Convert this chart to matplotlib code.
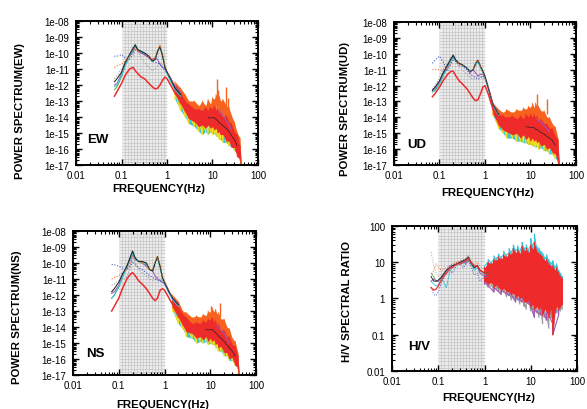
import numpy as np
import matplotlib
matplotlib.use("Agg")
import matplotlib.pyplot as plt
from matplotlib.ticker import LogLocator, FixedLocator, FixedFormatter, NullFormatter

plt.rcParams['font.family'] = ['Liberation Sans', 'DejaVu Sans']

# ---------------- data ----------------
f_lo = [0.07, 0.08, 0.1, 0.12, 0.15, 0.18, 0.2, 0.23, 0.27, 0.32, 0.4, 0.47,
        0.55, 0.62, 0.7, 0.8, 0.9, 1.0, 1.2, 1.5, 2.0]
f_hi = [1.5, 2, 2.5, 3, 4, 5, 6, 7, 8, 9, 10, 11, 12, 13, 14, 15, 17, 20,
        23, 26, 30, 35, 40, 43]

# log10 power, EW
ew_green  = [-12.3,-12.1,-11.5,-10.8,-10.2,-9.8,-9.5,-9.8,-9.9,-10.0,-10.2,-10.5,-10.4,-9.9,-9.6,-10.1,-10.8,-11.2,-11.7,-12.2,-12.6]
ew_grey   = [-11.6,-11.4,-11.0,-10.6,-10.1,-9.6,-9.4,-9.9,-10.3,-10.6,-10.9,-11.1,-11.0,-10.8,-10.6,-10.7,-11.0,-11.3,-11.7,-12.2,-12.6]
ew_purple = [-12.0,-11.9,-11.3,-10.7,-10.2,-9.9,-9.6,-9.8,-10.0,-10.1,-10.3,-10.4,-10.3,-10.4,-10.7,-10.9,-11.0,-11.2,-11.6,-12.1,-12.5]
ew_black  = [-11.8,-11.6,-11.2,-10.6,-10.1,-9.7,-9.5,-9.8,-9.9,-10.0,-10.2,-10.5,-10.4,-9.9,-9.6,-10.2,-10.9,-11.2,-11.6,-12.2,-12.6]
ew_orange = [-10.9,-10.8,-10.7,-10.5,-10.2,-9.9,-9.7,-9.9,-10.0,-10.1,-10.2,-10.4,-10.3,-9.8,-9.5,-10.1,-10.8,-11.1,-11.5,-12.0,-12.4]
ew_blue   = [-10.2,-10.2,-10.1,-10.3,-10.4,-10.1,-9.8,-9.9,-10.0,-10.1,-10.3,-10.5,-10.6,-10.6,-10.7,-10.9,-11.1,-11.2,-11.6,-12.1,-12.5]
ew_cyan   = [-12.1,-12.0,-11.4,-10.8,-10.2,-9.8,-9.5,-9.8,-9.9,-10.0,-10.2,-10.5,-10.4,-9.9,-9.6,-10.2,-10.9,-11.3,-11.8,-12.3,-12.7]
ew_red    = [-12.7,-12.4,-11.9,-11.4,-11.0,-10.9,-11.1,-11.3,-11.5,-11.6,-11.9,-12.1,-12.25,-12.2,-12.0,-11.7,-11.5,-11.6,-12.0,-12.5,-12.9]
ew_or_up  = [-11.8,-12.2,-12.6,-13.0,-13.0,-13.3,-13.0,-13.3,-12.9,-13.2,-12.8,-12.9,-12.6,-12.7,-12.7,-13.0,-12.9,-13.3,-13.4,-13.9,-14.3,-15.0,-15.3,-17.0]
ew_or_lo  = [-12.3,-12.8,-13.3,-13.5,-13.7,-13.8,-13.8,-13.8,-13.7,-13.7,-13.5,-13.4,-13.3,-13.3,-13.5,-13.7,-13.9,-14.2,-14.5,-14.8,-15.2,-15.6,-16.0,-17.0]
ew_lw_up  = [-12.4,-12.9,-13.4,-13.7,-14.0,-14.1,-14.1,-14.1,-14.0,-14.0,-13.9,-13.9,-13.9,-14.0,-14.1,-14.2,-14.4,-14.6,-14.8,-15.0,-15.3,-15.7,-16.1,-17.0]
ew_lw_lo  = [-12.9,-13.6,-14.0,-14.4,-14.6,-14.9,-15.1,-14.9,-15.1,-14.9,-15.1,-15.0,-15.2,-15.2,-15.4,-15.4,-15.6,-15.6,-15.8,-15.8,-16.1,-16.3,-16.7,-17.0]
ew_rd_up  = [-12.0,-12.5,-13.0,-13.2,-13.5,-13.5,-13.6,-13.4,-13.6,-13.4,-13.5,-13.3,-13.6,-13.5,-13.8,-13.7,-14.0,-13.9,-14.3,-14.4,-14.9,-15.1,-15.8,-17.0]
ew_rd_lo  = [-12.6,-13.2,-13.7,-14.1,-14.3,-14.6,-14.5,-14.7,-14.5,-14.7,-14.6,-14.8,-14.7,-15.0,-14.9,-15.1,-15.1,-15.5,-15.5,-15.9,-15.9,-16.5,-16.6,-17.0]
ew_spk_f  = [12.5, 13.5, 20.0, 22.0]
ew_spk_top = [-11.6, -12.3, -12.1, -12.8]
ew_spk_bot = [-13.2, -13.2, -13.5, -13.6]

# UD
ud_green  = [-12.4,-12.3,-11.9,-11.4,-10.8,-10.3,-10.1,-10.4,-10.6,-10.7,-10.9,-11.1,-11.0,-10.7,-10.5,-10.8,-11.1,-11.4,-12.2,-13.2,-13.8]
ud_grey   = [-12.2,-12.0,-11.5,-11.0,-10.6,-10.2,-10.0,-10.5,-10.8,-11.0,-11.3,-11.5,-11.6,-11.5,-11.4,-11.4,-11.5,-11.6,-12.3,-13.2,-13.8]
ud_purple = [-12.3,-12.2,-11.8,-11.3,-10.8,-10.4,-10.2,-10.5,-10.6,-10.7,-10.9,-11.2,-11.0,-11.2,-11.4,-11.3,-11.3,-11.5,-12.2,-13.2,-13.8]
ud_black  = [-12.3,-12.1,-11.7,-11.2,-10.7,-10.3,-10.1,-10.4,-10.6,-10.7,-10.9,-11.1,-11.0,-10.6,-10.4,-10.8,-11.1,-11.4,-12.2,-13.2,-13.8]
ud_orange = [-11.0,-11.0,-11.0,-11.0,-10.9,-10.6,-10.4,-10.5,-10.6,-10.7,-10.9,-11.1,-11.0,-10.6,-10.4,-10.8,-11.1,-11.4,-12.1,-13.1,-13.7]
ud_blue   = [-10.6,-10.4,-10.15,-10.5,-11.1,-10.6,-10.2,-10.5,-10.7,-10.8,-11.0,-11.3,-11.4,-11.5,-11.6,-11.5,-11.4,-11.5,-12.2,-13.2,-13.8]
ud_cyan   = [-12.4,-12.3,-11.9,-11.4,-10.9,-10.4,-10.2,-10.5,-10.6,-10.7,-10.9,-11.1,-11.0,-10.7,-10.5,-10.9,-11.2,-11.5,-12.3,-13.3,-13.9]
ud_red    = [-12.7,-12.5,-12.1,-11.7,-11.3,-11.1,-11.1,-11.4,-11.7,-11.9,-12.2,-12.5,-12.8,-12.95,-12.9,-12.5,-12.1,-12.0,-12.6,-13.5,-14.0]
ud_or_up  = [-13.1,-13.5,-13.7,-13.5,-13.7,-13.5,-13.6,-13.4,-13.5,-13.3,-13.4,-13.1,-13.4,-13.1,-13.4,-13.3,-13.6,-13.6,-14.0,-14.0,-14.4,-14.6,-15.3,-17.0]
ud_or_lo  = [-13.5,-14.0,-14.1,-14.1,-14.2,-14.2,-14.1,-14.1,-14.0,-14.0,-14.0,-13.9,-14.0,-14.0,-14.1,-14.2,-14.3,-14.5,-14.7,-14.9,-15.1,-15.4,-15.8,-17.0]
ud_lw_up  = [-13.5,-14.1,-14.3,-14.4,-14.5,-14.6,-14.6,-14.6,-14.6,-14.6,-14.7,-14.7,-14.7,-14.8,-14.8,-14.9,-15.0,-15.1,-15.2,-15.3,-15.5,-15.7,-16.0,-17.0]
ud_lw_lo  = [-13.9,-14.7,-15.0,-15.3,-15.3,-15.5,-15.5,-15.6,-15.6,-15.7,-15.7,-15.8,-15.8,-15.9,-15.8,-16.0,-15.9,-16.1,-16.1,-16.3,-16.3,-16.6,-16.7,-17.0]
ud_rd_up  = [-13.3,-13.8,-13.9,-14.0,-13.9,-14.1,-13.9,-14.1,-13.8,-14.0,-13.8,-14.0,-13.8,-14.1,-13.9,-14.2,-14.1,-14.4,-14.4,-14.7,-14.7,-15.2,-15.4,-17.0]
ud_rd_lo  = [-13.8,-14.5,-14.8,-14.9,-15.1,-15.0,-15.3,-15.1,-15.4,-15.2,-15.5,-15.3,-15.5,-15.4,-15.6,-15.5,-15.8,-15.7,-16.0,-15.9,-16.2,-16.3,-16.8,-17.0]
ud_spk_f  = [13.7, 23.0, 11.0]
ud_spk_top = [-12.5, -12.85, -13.3]
ud_spk_bot = [-13.5, -13.8, -14.2]

# NS
ns_green  = [-12.2,-12.0,-11.5,-10.9,-10.2,-9.6,-9.3,-9.7,-9.9,-9.9,-10.0,-10.4,-10.5,-10.0,-9.6,-10.2,-10.9,-11.2,-11.7,-12.2,-12.6]
ns_grey   = [-11.4,-11.3,-11.1,-11.0,-10.9,-10.3,-9.4,-10.0,-10.4,-10.6,-10.8,-11.0,-11.1,-11.0,-10.9,-11.0,-11.1,-11.3,-11.7,-12.2,-12.6]
ns_purple = [-11.9,-11.8,-11.4,-10.8,-10.3,-9.8,-9.5,-9.8,-9.9,-10.0,-10.2,-10.4,-10.5,-10.8,-11.0,-11.1,-11.2,-11.3,-11.7,-12.2,-12.6]
ns_black  = [-11.8,-11.6,-11.2,-10.7,-10.2,-9.6,-9.25,-9.7,-9.9,-9.9,-10.0,-10.4,-10.5,-10.0,-9.6,-10.2,-10.9,-11.2,-11.7,-12.2,-12.6]
ns_orange = [-11.0,-10.9,-10.8,-10.6,-10.4,-10.0,-9.7,-9.8,-9.9,-10.0,-10.1,-10.4,-10.4,-9.9,-9.6,-10.1,-10.8,-11.1,-11.6,-12.1,-12.5]
ns_blue   = [-10.1,-10.1,-10.2,-10.3,-10.4,-10.2,-9.9,-10.1,-10.3,-10.4,-10.6,-10.8,-10.9,-11.0,-11.1,-11.1,-11.2,-11.3,-11.7,-12.2,-12.6]
ns_cyan   = [-12.2,-12.0,-11.5,-10.9,-10.3,-9.7,-9.4,-9.8,-9.9,-10.0,-10.1,-10.4,-10.5,-10.0,-9.7,-10.3,-11.0,-11.3,-11.8,-12.3,-12.7]
ns_red    = [-13.0,-12.7,-12.2,-11.6,-11.0,-10.7,-10.6,-10.8,-11.1,-11.3,-11.6,-11.9,-12.2,-12.35,-12.2,-11.7,-11.6,-11.7,-12.1,-12.6,-13.0]
ns_or_up  = [-12.0,-12.4,-13.0,-13.1,-13.4,-13.3,-13.4,-13.2,-13.3,-13.0,-13.1,-12.8,-13.1,-12.9,-13.2,-13.1,-13.5,-13.5,-14.0,-14.1,-14.7,-14.9,-15.6,-17.0]
ns_or_lo  = [-12.5,-13.1,-13.5,-13.7,-13.9,-14.0,-13.9,-13.9,-13.8,-13.7,-13.6,-13.6,-13.7,-13.8,-13.9,-14.0,-14.2,-14.4,-14.7,-15.0,-15.3,-15.7,-16.1,-17.0]
ns_lw_up  = [-12.6,-13.2,-13.6,-13.9,-14.1,-14.2,-14.2,-14.2,-14.1,-14.1,-14.1,-14.1,-14.2,-14.3,-14.4,-14.5,-14.7,-14.9,-15.1,-15.3,-15.6,-15.9,-16.2,-17.0]
ns_lw_lo  = [-13.0,-13.8,-14.1,-14.6,-14.7,-15.0,-14.9,-15.0,-14.9,-15.1,-15.0,-15.1,-15.1,-15.3,-15.3,-15.5,-15.5,-15.8,-15.8,-16.1,-16.1,-16.4,-16.6,-17.0]
ns_rd_up  = [-12.2,-12.7,-13.2,-13.4,-13.8,-13.7,-13.8,-13.6,-13.7,-13.5,-13.6,-13.4,-13.7,-13.6,-13.9,-13.8,-14.2,-14.2,-14.6,-14.6,-15.1,-15.2,-15.8,-17.0]
ns_rd_lo  = [-12.8,-13.4,-13.9,-14.3,-14.4,-14.7,-14.6,-14.8,-14.6,-14.9,-14.7,-14.9,-14.8,-15.1,-15.0,-15.3,-15.2,-15.6,-15.6,-16.0,-15.9,-16.4,-16.5,-17.0]
ns_spk_f  = [10.5, 16.5, 12.0]
ns_spk_top = [-12.7, -12.5, -13.0]
ns_spk_bot = [-13.6, -13.4, -13.8]

# H/V spectral ratio
f_hv_lo = [0.07, 0.08, 0.09, 0.1, 0.12, 0.15, 0.18, 0.2, 0.25, 0.3, 0.35, 0.4,
           0.45, 0.5, 0.6, 0.7, 0.8, 1.0, 1.2]
hv_grey   = [19, 8, 5, 4, 4.5, 6, 8, 9, 10, 11, 12, 13, 16, 12, 8, 9, 6, 5, 5]
hv_orange = [4, 6, 9, 7, 6, 7, 8, 9, 10, 11, 12, 13, 12, 10, 9, 10, 8, 6, 5]
hv_green  = [5, 4, 3, 3, 4, 6, 7, 8, 9, 10, 11, 12, 14, 11, 7, 8, 6, 5, 5]
hv_cyan   = [3, 2.5, 2.2, 2.4, 3.5, 2.0, 6, 7, 9, 10, 9, 10, 12, 9, 6, 7, 5, 4.5, 5]
hv_blue   = [2, 1.3, 1.2, 1.5, 3, 5, 6, 5, 8, 9, 7, 9, 11, 8, 4.5, 5, 3, 4, 4]
hv_purple = [3, 3.5, 3, 3, 4, 6, 8, 8, 9, 10, 11, 9, 12, 10, 7, 8, 5, 4, 4]
hv_red    = [2, 1.7, 1.8, 2.2, 3.5, 5, 7, 7, 9, 9, 10, 11, 13, 10, 8, 8, 6, 5, 5]
hv_black  = [4, 3, 3, 3.2, 4, 6, 7, 8, 9, 10, 11, 12, 14, 10, 7, 8, 6, 5, 5]
f_hv_hi = [1.0, 1.2, 1.4, 1.6, 1.8, 2.0, 2.3, 2.6, 3.0, 3.4, 3.8, 4.2, 4.7, 5.2,
           5.8, 6.5, 7.2, 8.0, 9.0, 10, 11, 12, 13.5, 15, 16.5, 18, 20, 22,
           24.5, 27, 30, 33, 36, 40, 44, 48]
hv_out_up = [8, 12, 10, 15, 13, 17, 14, 20, 16, 24, 19, 30, 22, 28, 20, 35, 25, 30,
             22, 45, 30, 60, 28, 25, 20, 18, 14, 16, 12, 10, 11, 8, 9, 6, 5, 4]
hv_out_lo = [2.5, 2.0, 2.2, 1.5, 1.8, 1.6, 1.3, 1.5, 1.1, 1.2, 0.9, 1.0, 0.8, 0.9,
             0.7, 0.8, 0.6, 0.5, 0.7, 0.45, 0.5, 0.3, 0.4, 0.3, 0.35, 0.2, 0.3,
             0.25, 0.15, 0.3, 0.2, 0.3, 0.4, 0.35, 0.45, 0.5]
hv_rd_up  = [7, 10, 9, 12, 11, 14, 12, 16, 14, 18, 16, 24, 18, 22, 17, 28, 20, 24,
             18, 30, 22, 35, 20, 18, 16, 14, 11, 12, 9, 8, 8, 6, 7, 5, 4, 3.5]
hv_rd_lo  = [3, 2.5, 2.8, 2.0, 2.4, 2.0, 1.7, 1.9, 1.5, 1.6, 1.3, 1.4, 1.1, 1.2,
             1.0, 1.1, 0.8, 0.8, 0.9, 0.6, 0.7, 0.5, 0.6, 0.5, 0.6, 0.35, 0.5,
             0.45, 0.3, 0.5, 0.1, 0.4, 0.6, 0.5, 0.6, 0.7]

x_ticks = [0.01, 0.1, 1, 10, 100]
x_tick_labels = ['0.01', '0.1', '1', '10', '100']
ps_ticks = [1e-17, 1e-16, 1e-15, 1e-14, 1e-13, 1e-12, 1e-11, 1e-10, 1e-09, 1e-08]
ps_tick_labels = ['1e-17', '1e-16', '1e-15', '1e-14', '1e-13', '1e-12', '1e-11',
                  '1e-10', '1e-09', '1e-08']
hv_ticks = [0.01, 0.1, 1, 10, 100]
hv_tick_labels = ['0.01', '0.1', '1', '10', '100']

C = dict(red='#ee2a2a', orange='#f7631e', yellow='#f0e020', cyan='#3cc4d6',
         black='#222222', purple='#a058b8', green='#58b050', blue='#3a4fc0',
         grey='#9a9a9a', pink='#f4a0a8')

# ---------------- figure ----------------
fig = plt.figure(figsize=(5.87, 4.10), dpi=100)

def style_axes(ax, ylab, ylab_xy, xlab_xy, ptxt, ptxt_xy, yticks, ylabels, ylim):
    ax.set_xscale('log'); ax.set_yscale('log')
    ax.set_xlim(0.01, 100); ax.set_ylim(*ylim)
    # shaded band with fine grid
    ax.axvspan(0.1, 1, color='#ebebeb', zorder=0, lw=0)
    gx = 10 ** (-1 + np.arange(1, 15) / 15.0)
    ax.vlines(gx, ylim[0], ylim[1], color='#bdbdbd', lw=0.4, zorder=0.5)
    lo, hi = np.log10(ylim[0]), np.log10(ylim[1])
    gy = 10 ** np.linspace(lo, hi, 46)[1:-1]
    ax.hlines(gy, 0.1, 1, color='#bdbdbd', lw=0.4, zorder=0.5)
    ax.xaxis.set_major_locator(FixedLocator(x_ticks))
    ax.xaxis.set_major_formatter(FixedFormatter(x_tick_labels))
    ax.xaxis.set_minor_locator(LogLocator(base=10, subs=np.arange(2, 10), numticks=20))
    ax.xaxis.set_minor_formatter(NullFormatter())
    ax.yaxis.set_major_locator(FixedLocator(yticks))
    ax.yaxis.set_major_formatter(FixedFormatter(ylabels))
    ax.yaxis.set_minor_locator(LogLocator(base=10, subs=np.arange(2, 10), numticks=30))
    ax.yaxis.set_minor_formatter(NullFormatter())
    ax.tick_params(which='both', direction='in', top=True, right=True,
                   labelsize=7, width=1.0)
    ax.tick_params(axis='x', which='major', pad=3.5)
    ax.tick_params(axis='y', which='major', pad=5)
    ax.tick_params(which='major', length=4.5)
    ax.tick_params(which='minor', length=2.4, width=0.8)
    for s in ax.spines.values():
        s.set_linewidth(1.4)
    ax.set_ylabel(ylab, fontsize=8.2, fontweight='bold', va='center')
    ax.yaxis.set_label_coords(*ylab_xy)
    ax.set_xlabel('FREQUENCY(Hz)', fontsize=8.2, fontweight='bold', va='center')
    ax.xaxis.set_label_coords(*xlab_xy)
    ax.text(ptxt_xy[0], ptxt_xy[1], ptxt, transform=ax.transAxes,
            fontsize=9.5, fontweight='bold', va='center', ha='left')

def zigzag(f, a, b):
    # vertical strokes at the given frequencies, from a to b
    zf = np.repeat(np.asarray(f, dtype=float), 2)
    zv = np.ravel(np.column_stack([np.asarray(a), np.asarray(b)]))
    return zf, zv

def draw_ps(ax, lines, bands, spikes):
    p = lambda v: 10.0 ** np.asarray(v)
    fh = np.asarray(f_hi)
    (lw_up, lw_lo), (or_up, or_lo), (rd_up, rd_lo) = bands
    ax.fill_between(fh, p(lw_lo), p(lw_up), color=C['cyan'], lw=0, zorder=2)
    zf, zv = zigzag(fh, p(lw_lo), p(lw_up))
    ax.plot(zf, zv, color=C['yellow'], lw=0.9, zorder=2.1)
    ax.fill_between(fh, p(or_lo), p(or_up), color=C['orange'], lw=0, zorder=2.2)
    zf, zv = zigzag(fh, p(or_up), p(rd_lo))
    ax.plot(zf, zv, color=C['orange'], lw=0.6, zorder=2.2)
    sf, st, sb = spikes
    ax.vlines(sf, p(sb), p(st), color=C['orange'], lw=1.0, zorder=2.3)
    ax.fill_between(fh, p(rd_lo), p(rd_up), color=C['red'], lw=0, zorder=2.4)
    zf, zv = zigzag(fh, p(rd_up), p(lw_up))
    ax.plot(zf, zv, color=C['red'], lw=0.6, zorder=2.45)
    mid = (np.asarray(rd_up) + np.asarray(rd_lo)) / 2
    ax.plot(fh[8:22], p(mid[8:22]), color=C['black'], lw=0.5, zorder=2.5)
    ax.plot(fh[14:20], p(np.asarray(or_lo[14:20])), color=C['purple'], lw=0.8, zorder=2.5)
    for name, vals in lines:
        ls = ':' if name in ('blue', 'orange', 'grey') else '-'
        lw = 1.1 if name == 'red' else 0.75
        z = 4 if name == 'red' else 3
        ax.plot(f_lo, p(vals), color=C[name], lw=lw, ls=ls, zorder=z)

ylim_ps = (1e-17, 1e-8)

# EW
ax1 = fig.add_axes([0.1295, 0.5951, 0.3100, 0.3512])
style_axes(ax1, 'POWER SPECTRUM(EW)', (-0.308, 0.38), (0.456, -0.16), 'EW', (0.06, 0.18),
           ps_ticks, ps_tick_labels, ylim_ps)
draw_ps(ax1, [('grey', ew_grey), ('green', ew_green), ('purple', ew_purple),
              ('cyan', ew_cyan), ('black', ew_black), ('orange', ew_orange),
              ('blue', ew_blue), ('red', ew_red)],
        [(ew_lw_up, ew_lw_lo), (ew_or_up, ew_or_lo), (ew_rd_up, ew_rd_lo)],
        (ew_spk_f, ew_spk_top, ew_spk_bot))

# UD
ax2 = fig.add_axes([0.6712, 0.5951, 0.3100, 0.3488])
style_axes(ax2, 'POWER SPECTRUM(UD)', (-0.27, 0.40), (0.516, -0.187), 'UD', (0.075, 0.147),
           ps_ticks, ps_tick_labels, ylim_ps)
draw_ps(ax2, [('grey', ud_grey), ('green', ud_green), ('purple', ud_purple),
              ('cyan', ud_cyan), ('black', ud_black), ('orange', ud_orange),
              ('blue', ud_blue), ('red', ud_red)],
        [(ud_lw_up, ud_lw_lo), (ud_or_up, ud_or_lo), (ud_rd_up, ud_rd_lo)],
        (ud_spk_f, ud_spk_top, ud_spk_bot))

# NS
ax3 = fig.add_axes([0.1244, 0.0829, 0.3118, 0.3512])
style_axes(ax3, 'POWER SPECTRUM(NS)', (-0.308, 0.41), (0.489, -0.20), 'NS', (0.07, 0.153),
           ps_ticks, ps_tick_labels, ylim_ps)
draw_ps(ax3, [('grey', ns_grey), ('green', ns_green), ('purple', ns_purple),
              ('cyan', ns_cyan), ('black', ns_black), ('orange', ns_orange),
              ('blue', ns_blue), ('red', ns_red)],
        [(ns_lw_up, ns_lw_lo), (ns_or_up, ns_or_lo), (ns_rd_up, ns_rd_lo)],
        (ns_spk_f, ns_spk_top, ns_spk_bot))

# H/V
ax4 = fig.add_axes([0.6678, 0.0927, 0.3152, 0.3537])
style_axes(ax4, 'H/V SPECTRAL RATIO', (-0.245, 0.485), (0.524, -0.18), 'H/V', (0.085, 0.17),
           hv_ticks, hv_tick_labels, (0.01, 100))
fh = np.asarray(f_hv_hi)
zf, zv = zigzag(fh, hv_rd_up, hv_out_up)
ax4.plot(zf, zv, color=C['cyan'], lw=0.8, zorder=2)
zf, zv = zigzag(fh, hv_out_lo, hv_rd_lo)
ax4.plot(zf, zv, color=C['grey'], lw=0.8, zorder=2)
zf, zv = zigzag(fh[::3], np.asarray(hv_out_lo)[::3], np.asarray(hv_rd_lo)[::3])
ax4.plot(zf, zv, color=C['purple'], lw=0.8, zorder=2.1)
ax4.fill_between(fh, hv_rd_lo, hv_rd_up, color=C['red'], lw=0, zorder=2.4)
zf, zv = zigzag(fh, hv_rd_up, hv_rd_lo)
ax4.plot(zf, zv, color=C['red'], lw=0.9, zorder=2.5)
for name, vals in [('grey', hv_grey), ('orange', hv_orange), ('green', hv_green),
                   ('cyan', hv_cyan), ('blue', hv_blue), ('purple', hv_purple),
                   ('black', hv_black), ('red', hv_red)]:
    ls = ':' if name in ('blue', 'orange', 'grey') else '-'
    lw = 1.0 if name == 'red' else 0.7
    ax4.plot(f_hv_lo, vals, color=C[name], lw=lw, ls=ls, zorder=3 if name != 'red' else 4,
             alpha=0.9)

fig.savefig('out.png', dpi=100)
